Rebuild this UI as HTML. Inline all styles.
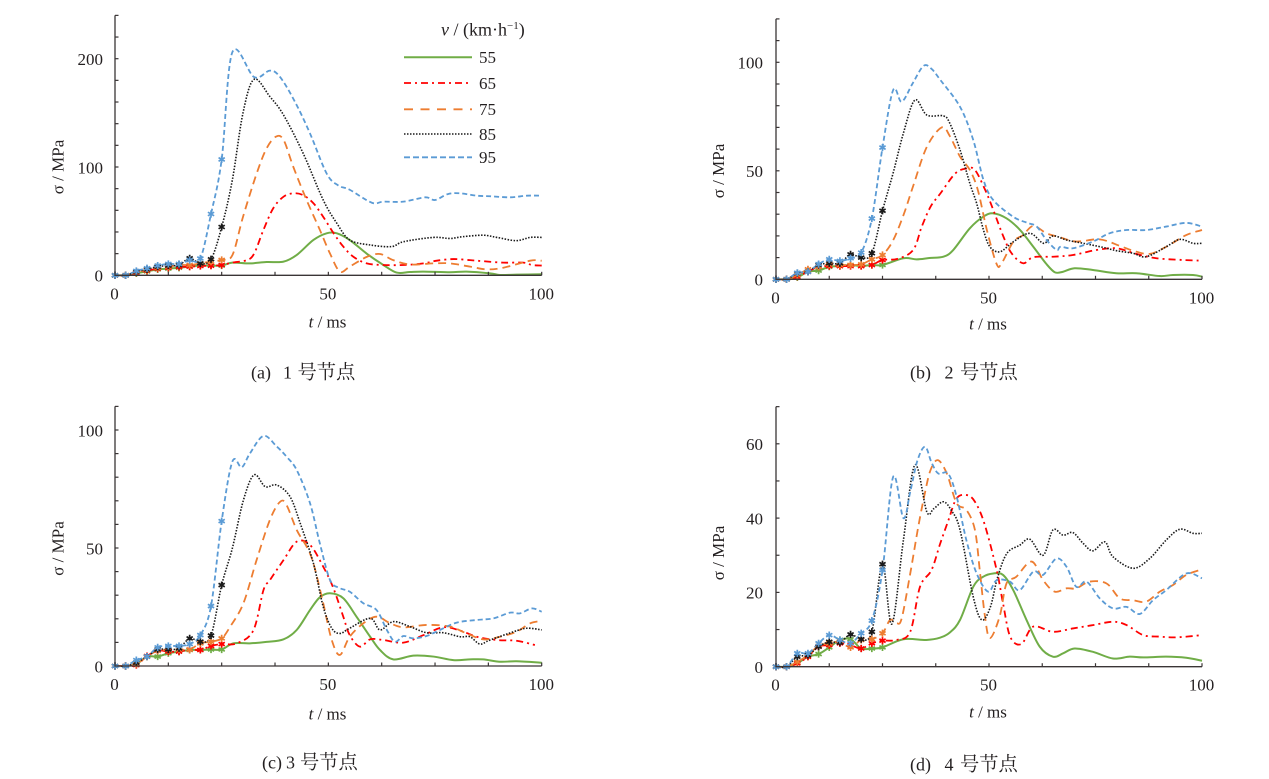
<!DOCTYPE html>
<html><head><meta charset="utf-8">
<style>
html,body{margin:0;padding:0;background:#fff;}
svg{display:block;}
text{font-family:"Liberation Serif","Noto Serif CJK SC",serif;fill:#231f20;}
</style></head>
<body>
<svg id="s" xmlns="http://www.w3.org/2000/svg" width="1269" height="779" viewBox="0 0 1269 779">
<rect width="1269" height="779" fill="#fff"/>
<g font-size="17">
  <text x="327.5" y="327.5" text-anchor="middle"><tspan font-style="italic">t</tspan> / ms</text>
  <text x="988" y="329.5" text-anchor="middle"><tspan font-style="italic">t</tspan> / ms</text>
  <text x="327.5" y="719.5" text-anchor="middle"><tspan font-style="italic">t</tspan> / ms</text>
  <text x="988" y="717.5" text-anchor="middle"><tspan font-style="italic">t</tspan> / ms</text>
  <text transform="translate(63.5,167) rotate(-90)" text-anchor="middle">σ / MPa</text>
  <text transform="translate(724,171) rotate(-90)" text-anchor="middle">σ / MPa</text>
  <text transform="translate(63.5,548.5) rotate(-90)" text-anchor="middle">σ / MPa</text>
  <text transform="translate(724,553) rotate(-90)" text-anchor="middle">σ / MPa</text>
</g>
<g font-size="18">
  <text x="251" y="378.5">(a)</text><text x="283" y="378.5">1</text><text x="297.5" y="378.5" font-size="19.3">号节点</text>
  <text x="910" y="378.5">(b)</text><text x="944.5" y="378.5">2</text><text x="960" y="378.5" font-size="19.3">号节点</text>
  <text x="262" y="768.5">(c)</text><text x="286" y="768.5">3</text><text x="300" y="768.5" font-size="19.3">号节点</text>
  <text x="910" y="770.5">(d)</text><text x="944.5" y="770.5">4</text><text x="960" y="770.5" font-size="19.3">号节点</text>
</g>
<g font-size="17">
  <text x="441" y="35.5" font-size="18"><tspan font-style="italic">v</tspan> / (km·h<tspan font-size="11" dy="-6.5">−1</tspan><tspan dy="6.5">)</tspan></text>
  <line x1="404" y1="57.3" x2="472" y2="57.3" stroke="#70ad47" stroke-width="2"/>
  <line x1="404" y1="83" x2="472" y2="83" stroke="#ff0000" stroke-width="1.8" stroke-dasharray="7 4 2 4"/>
  <line x1="404" y1="109.3" x2="472" y2="109.3" stroke="#ed7d31" stroke-width="1.8" stroke-dasharray="9 7.5"/>
  <line x1="404" y1="134" x2="472" y2="134" stroke="#1a1a1a" stroke-width="1.6" stroke-dasharray="1.5 1.5"/>
  <line x1="404" y1="157.3" x2="472" y2="157.3" stroke="#5b9bd5" stroke-width="1.8" stroke-dasharray="6 3"/>
  <text x="479" y="63">55</text>
  <text x="479" y="89">65</text>
  <text x="479" y="115">75</text>
  <text x="479" y="140">85</text>
  <text x="479" y="163">95</text>
</g>
<g id="dyn"></g>
</svg>
<script>
(function(){
var COL={g:'#70ad47',r:'#ff0000',o:'#ed7d31',k:'#1a1a1a',b:'#5b9bd5'};
var DASH={g:'',r:'7 4 2 4',o:'8 5',k:'1.5 1.5',b:'5 3'};
var WID={g:2,r:1.8,o:1.8,k:1.6,b:1.8};
var panels=[
{x0:115,x1:541.7,y0:275.3,ppu:1.083,ymax:240,tick:20,labels:[0,100,200],lx:103,
 s:{
 g:[[0,0,1.8,3.7,5.5,6.2,7,8,9,9,9],[[27.5,11.7],[31.6,11],[35.5,12.3],[39.5,12.6],[42.6,18.8],[46.5,32.6],[49.6,38.8],[52,38.8],[55,32.6],[59,20],[62.9,9.5],[66,2.5],[69.1,3],[72.3,3.4],[78.5,2.8],[82.4,3.4],[87.9,1.8],[90.2,0.3],[94.1,0.6],[100,1]]],
 r:[[0,0,2.5,4.3,6.2,7,7.7,8,8.6,8.9,9.5],[[27.5,11.7],[30.9,14],[32.6,20],[34.8,42],[37.1,62],[39.5,72.6],[41.8,75.7],[44.1,74],[46.5,66.5],[48.8,54],[51.2,39],[53.5,26.5],[55.9,17],[59,11],[62.9,9.5],[67.6,9.5],[72.3,11],[75.4,13.5],[79.3,15],[83.2,14],[86.3,13],[91,11.7],[95.7,11.7],[97.7,9.5],[100,9]]],
 o:[[0,0,3.1,4.9,7.1,8,9.5,9.5,11,12.6,14.2],[[27.5,18.5],[30,54],[33.2,94],[35.5,117],[37.7,128],[39.5,125],[41.8,100],[44.9,69.5],[48,42],[50.4,20],[52.7,3.4],[55,8],[59,17],[62.1,19.7],[65.2,14],[69.1,10],[74.6,11],[78.5,11],[83.2,8],[87.1,5.5],[91,7],[97.3,13.5],[100,13.5]]],
 k:[[0,0,3.4,5.5,8,9,9.5,15.7,11,14.8,44.6],[[27.5,88],[30,150],[32.6,181],[36.3,165],[39.5,148],[44.1,112.6],[48.8,69.5],[52,48],[55,32.6],[59.8,28],[64.8,26.5],[67.6,31],[74.6,35],[78.5,34],[81.6,35.7],[86.3,37],[89.5,35],[94,32],[97.3,35],[100,35]]],
 b:[[0,0,4,6.5,9,10.5,10.5,14,15.5,56.6,107],[[27.5,206],[32.6,183],[36.3,189],[38.7,183],[42.2,160],[45.7,131],[49.6,94],[52.3,83],[55,79],[60.2,67],[62.9,68],[67.6,68],[72.7,72],[75,69.5],[78,75],[80.9,75.7],[84.8,73.5],[87.9,73],[92.6,72],[96.5,73.5],[100,73.5]]]
 }},
{x0:776,x1:1202,y0:279.3,ppu:2.17,ymax:120,tick:10,labels:[0,50,100],lx:763,
 s:{
 g:[[0,0,0.9,3.5,4,5.8,6.1,6.6,6.1,6.6,6.6],[[29.9,9.7],[33,9.2],[36,9.8],[39.3,10.4],[41.6,13.5],[45.5,23.5],[48.7,28.9],[51,30.4],[54.1,28.1],[57.3,22.7],[60.4,15],[63.5,7],[65.5,3.2],[67.4,3.5],[70.1,5.1],[74.4,4.3],[79.9,2.8],[84.6,2.8],[90.1,1.5],[93.2,2],[97.9,2],[100,1.2]]],
 r:[[0,0,1.2,3.5,5.8,6.1,6.1,6.1,6.1,6.6,8.9],[[28.5,9.4],[32.2,13.5],[34.2,24.2],[36.3,33.5],[38.6,39.6],[42.1,48.8],[44.8,51.1],[46.7,50.4],[49.1,41.2],[51,32],[53.4,19.6],[55.3,12],[58,7.4],[60.4,10.2],[65,10.4],[69.7,11.2],[75.2,13.5],[79.9,14.3],[84.6,11.7],[89.3,9.7],[95.5,8.9],[100,8.6]]],
 o:[[0,0,2,4.6,5.8,6.9,6.6,6.6,6.9,9.2,11.2],[[27.5,18],[30,30],[32.2,43],[35.4,61],[38.9,70],[40.8,66],[43.2,56.5],[45.5,50.4],[47.4,41],[49.5,22.7],[51.8,7],[53,7.5],[55.7,17.3],[58,20.4],[60.4,24.6],[63.5,21.2],[66.6,19.4],[70.5,17.4],[76,18.4],[80.7,15.4],[83.8,13.2],[87.7,11.7],[91.6,15],[96.3,20.4],[100,22.7]]],
 k:[[0,0,2.8,3.5,6.6,7.4,7.4,11.5,10,12,31.6],[[27.5,49],[29.9,67.3],[32.6,82.6],[35.4,75.7],[39.3,75.3],[40.8,71.9],[43.2,59.6],[45.5,44.2],[47.1,35],[48.7,22.7],[50.2,15],[52.6,12.7],[55.7,17.3],[59.6,21.2],[62.8,16.6],[65,20],[68.2,18.1],[72.1,16.6],[76.8,14.7],[79.9,13.2],[83.8,12],[86.9,10.4],[91.6,15],[94.8,18.4],[97.9,16.6],[100,16.6]]],
 b:[[0,0,3,3.5,7,9.2,8.5,9.7,12.3,28,60.7],[[27.5,87.2],[29.5,81.8],[32,90],[34.6,98.3],[36.5,97],[38.6,91.8],[43.2,79.5],[46.3,64.2],[48.7,45.8],[51,36.5],[55.7,28.8],[59,26],[61.2,24.3],[63.5,18.1],[65.9,13.5],[66.8,15],[69.7,14.3],[74.4,17.4],[78.3,21.2],[82.3,22.7],[86.9,22.7],[91.6,24.3],[96.3,26],[100,24.3]]]
 }},
{x0:115,x1:541.7,y0:666,ppu:2.36,ymax:110,tick:10,labels:[0,50,100],lx:103,
 s:{
 g:[[0,0,0.8,4,4,5.4,6.1,6.8,6.8,7,7],[[27.7,9.6],[31.6,9.6],[35.5,10.2],[39.5,11.3],[42.6,15.3],[45.7,23.7],[48,29.1],[50.4,30.8],[53.5,28.7],[56.6,20.9],[59.8,12.4],[62.1,6.8],[65.2,2.8],[69.9,4.4],[74.6,4],[79.3,2.5],[83.2,2.8],[86.3,2.8],[90.2,1.8],[94.1,2],[100,1.4]]],
 r:[[0,0,0.4,4.2,6.5,6.1,6.1,7,6.8,8.5,9.3],[[28.5,9.6],[32.4,15],[34.8,32.2],[36.3,36.4],[39.5,44.9],[42.6,52.7],[45.7,51.3],[48.8,42.1],[51.2,32.9],[53.5,20.9],[55,13.1],[57.4,8.2],[59.8,11.3],[62.9,11],[67.6,9.9],[72.3,13.1],[76.9,16.4],[80.9,15],[84.8,12.4],[89.5,11],[94.1,10.7],[98.4,8.9]]],
 o:[[0,0,0.8,4,6.5,6.8,7,7,9.6,10.3,11.7],[[27,16.7],[30.1,26.6],[33.2,45],[36.3,61.9],[38.7,69.6],[40.2,68.2],[42.6,57.6],[44.9,50.6],[46.5,43.5],[48.8,26.6],[50.8,11],[52.7,4.7],[55,12.4],[58.2,18.1],[61.3,20.9],[64.5,18.1],[67.6,16.4],[73,17.4],[78.5,16.7],[82.4,13.8],[86.3,11.3],[90.2,12.4],[94.1,14.5],[97.3,18.1],[100,19.1]]],
 k:[[0,0,1.4,4,7,7,7.5,11.7,10.3,12.9,34.3],[[27.5,49.9],[30.1,70.3],[32.6,81],[35.2,76],[37.9,76.7],[41,71.8],[43.4,60.5],[46.5,43.5],[48.8,25.1],[50.8,16],[52.7,13.8],[55,16],[59.8,20.2],[62.1,15.3],[65.2,18.8],[69.1,16.7],[73,14.1],[76.9,14.1],[80.9,12.4],[83.2,12.4],[85.5,9.3],[87.9,11],[93.4,14.5],[96.5,16],[100,15.3]]],
 b:[[0,0,2.5,4,7.9,8.5,8.5,9.3,13.1,25.4,61.4],[[27.5,86.6],[29.7,84.2],[31.6,90],[34.8,97.5],[37.9,93],[40.2,88.7],[42.6,83],[45.7,69],[48,52],[50.4,36.4],[52.7,33],[55,31.5],[58.2,26.6],[61.3,23.7],[63.7,15.3],[65.6,10.3],[67.6,12.7],[69.9,11.7],[73,12.7],[76.2,15.3],[80.1,18.4],[84.8,19.5],[88.7,20.2],[92.6,22.6],[94.9,22.3],[97.7,24.4],[100,23]]]
 }},
{x0:776,x1:1202,y0:666.7,ppu:3.715,ymax:70,tick:10,labels:[0,20,40,60],lx:763,
 s:{
 g:[[0,0,0.9,2.7,3.4,5.2,7.2,7.4,4.9,4.9,5.2],[[29.9,7.4],[35.3,7.2],[38.5,7.8],[40.8,9.2],[43.2,12.6],[46.3,21.5],[48.6,24.2],[51,25.1],[53.3,24.7],[55.7,20.6],[58.8,12.6],[61.9,5.4],[65,2.7],[67.4,3.6],[70.1,4.9],[74.4,4],[79.1,2.2],[83,2.7],[86.2,2.5],[91.6,2.7],[96.3,2.4],[100,1.6]]],
 r:[[0,0,0.9,2.7,5.4,5.8,6.3,5.8,4.9,6.3,7],[[28.3,7.2],[31.5,9.4],[33.8,21.5],[36.5,26],[38.5,33],[40.5,39.5],[42.4,45.3],[44.8,46.2],[46.7,44.4],[48.9,38.6],[51.8,26],[53.3,17],[55,8],[57.6,6.1],[60.4,10.8],[65,9.4],[69.7,10.3],[74.4,11.2],[79.1,12.1],[82.3,11.2],[86.2,8.5],[90.1,8.1],[94,7.9],[100,8.5]]],
 o:[[0,0,1.3,3.1,5.6,6.3,6.7,5.2,7.2,7.4,9],[[26.8,12.6],[28.3,11.7],[29.5,13],[31.5,25],[33.4,37.7],[35,47],[36.3,53],[38,55.6],[40.1,52],[42.4,44],[44.7,42.2],[46.7,36.8],[47.9,25.2],[49,14],[50.2,7.7],[52.5,13.5],[54.1,22.4],[56.4,24.2],[60,28.3],[62.7,23.3],[65.4,20.2],[68.2,21.1],[70.5,21.1],[73.6,22.9],[77.6,22.4],[80.7,18.4],[83.8,17.9],[86.9,17.5],[90.1,20.2],[93.2,22],[96.3,24.7],[100,26.2]]],
 k:[[0,0,2.7,3.1,5.4,6.7,6.5,8.7,7.4,9.4,27.6],[[27.2,11.5],[29.9,34],[32.6,54.3],[35.4,41.7],[37,42.5],[39.3,44.4],[41.2,42],[43.2,36.8],[46.3,18.8],[48.3,12.6],[50.3,16],[52,24],[54.2,30.5],[57.2,32.7],[59.6,34.3],[62.7,30],[65,36.8],[67.4,35.4],[69.7,36.1],[72.1,33.2],[74.4,31.2],[77.2,33.6],[79.1,29.6],[83.8,26.5],[87.7,29.1],[91.6,34.1],[94.8,37],[97.9,35.9],[100,35.9]]],
 b:[[0,0,3.6,3.6,6.3,8.5,7.2,6.3,9,12.4,26],[[27.5,51.1],[29.9,40],[31.5,47],[33.2,55.5],[35,59.2],[36.5,55],[38.1,52],[40.4,52],[42.4,45.8],[44.7,34],[47.1,25.1],[49.8,20.2],[51.8,23.3],[54.9,22.9],[57.2,20.6],[60.4,25.6],[62.7,24.7],[65.8,29.1],[68.2,26.9],[70.5,21.5],[72.9,22.9],[76,18.4],[79.1,15.7],[82.3,16.1],[85.4,14.2],[88.5,17.9],[91.6,20.6],[96.3,25.1],[100,23.8]]]
 }}
];
function f(n){return Math.round(n*100)/100;}
function spline(p){
  var d='M'+f(p[0][0])+','+f(p[0][1]);
  for(var i=0;i<p.length-1;i++){
    var p0=p[i>0?i-1:i],p1=p[i],p2=p[i+1],p3=p[i+2<p.length?i+2:i+1];
    var c1x=p1[0]+(p2[0]-p0[0])/6,c1y=p1[1]+(p2[1]-p0[1])/6;
    var c2x=p2[0]-(p3[0]-p1[0])/6,c2y=p2[1]-(p3[1]-p1[1])/6;
    d+='C'+f(c1x)+','+f(c1y)+' '+f(c2x)+','+f(c2y)+' '+f(p2[0])+','+f(p2[1]);
  }
  return d;
}
var out='';
panels.forEach(function(P){
  var X=function(t){return P.x0+(P.x1-P.x0)*t/100;};
  var Y=function(v){return P.y0-v*P.ppu;};
  var ax='#3a3536';
  ['g','r','o','k','b'].forEach(function(key){
    var m=P.s[key][0],rest=P.s[key][1];
    var pts=m.map(function(v,i){return [X(i*2.5),Y(v)];}).concat(rest.map(function(q){return [X(q[0]),Y(q[1])];}));
    out+='<path d="'+spline(pts)+'" fill="none" stroke="'+COL[key]+'" stroke-width="'+WID[key]+'"'+(DASH[key]?' stroke-dasharray="'+DASH[key]+'"':'')+' stroke-linejoin="round"/>';
  });
  ['g','r','o','k','b'].forEach(function(key){
    var m=P.s[key][0];
    m.forEach(function(v,i){
      var cx=X(i*2.5),cy=Y(v),r=3.6,s='';
      [90,30,150].forEach(function(a){
        var dx=r*Math.cos(a*Math.PI/180),dy=r*Math.sin(a*Math.PI/180);
        s+='M'+f(cx-dx)+','+f(cy-dy)+'L'+f(cx+dx)+','+f(cy+dy);
      });
      out+='<path d="'+s+'" stroke="'+COL[key]+'" stroke-width="1.7" fill="none"/>';
    });
  });
  out+='<line x1="'+P.x0+'" y1="'+f(Y(P.ymax))+'" x2="'+P.x0+'" y2="'+(P.y0+0.6)+'" stroke="'+ax+'" stroke-width="1.3"/>';
  out+='<line x1="'+(P.x0-0.6)+'" y1="'+P.y0+'" x2="'+P.x1+'" y2="'+P.y0+'" stroke="'+ax+'" stroke-width="1.3"/>';
  for(var v=P.tick;v<=P.ymax+0.01;v+=P.tick){
    out+='<line x1="'+P.x0+'" y1="'+f(Y(v))+'" x2="'+(P.x0+3.5)+'" y2="'+f(Y(v))+'" stroke="'+ax+'" stroke-width="1.2"/>';
  }
  for(var t=12.5;t<=100.01;t+=12.5){
    out+='<line x1="'+f(X(t))+'" y1="'+P.y0+'" x2="'+f(X(t))+'" y2="'+(P.y0-3.5)+'" stroke="'+ax+'" stroke-width="1.2"/>';
  }
  P.labels.forEach(function(v){
    out+='<text x="'+P.lx+'" y="'+f(Y(v)+6.3)+'" text-anchor="end" font-size="17">'+v+'</text>';
  });
  [0,50,100].forEach(function(t){
    out+='<text x="'+f(X(t)-0.5)+'" y="'+f(P.y0+24)+'" text-anchor="middle" font-size="17">'+t+'</text>';
  });
});
document.getElementById('dyn').innerHTML=out;
})();
</script>
</body></html>
